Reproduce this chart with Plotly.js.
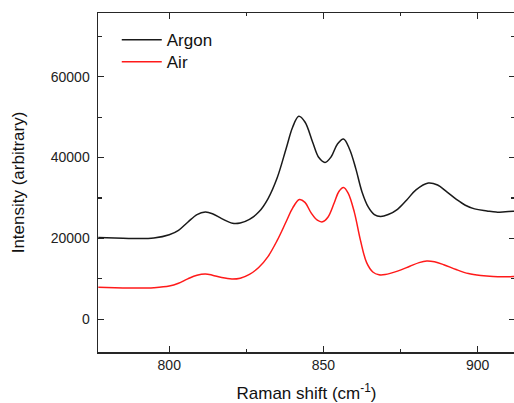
<!DOCTYPE html>
<html>
<head>
<meta charset="utf-8">
<script src="https://cdn.plot.ly/plotly-3.0.1.min.js"></script>
<style>
html,body{margin:0;padding:0;overflow:hidden;background:#fff;width:514px;height:403px;}
#chart{width:516px;height:403px;}
</style>
</head>
<body>
<div id="chart"></div>
<script>
const argonX = [777,785,790,795,800,803,806,809,811.7,814,817,820.5,823,826,829,832,835,838,840,842,844,846.5,848.5,850.5,852.5,854.5,856.5,858.5,860.5,862.5,864.5,866.5,868.5,871,874,877,880,884,887,890,893,896,899,903,906,909,911.5,913];
const argonY = [20200,20050,19950,20100,20900,22000,24000,25900,26500,26100,24900,23750,23800,24700,26500,29800,35000,42500,47500,50200,48800,43800,40000,38800,40200,43300,44600,42000,37200,31500,27800,25900,25400,25900,27200,29500,32000,33700,33200,31500,29700,28200,27300,26800,26500,26600,26700,26700];
const airX = [777,785,790,795,800,803,806,809,811.7,814,817,820.3,823,826,829,832,835,838,840,842.2,844,846,848,849.7,851.5,853.5,855,856.5,858,860,862,864,866,868,870,874,878,881,883.5,886,889,893,897,901,905,909,911.5,913];
const airY = [7900,7750,7700,7800,8200,8900,10000,10900,11200,10900,10300,9950,10150,11100,12800,15500,19500,24300,27500,29600,28900,26300,24500,24100,25300,28800,31600,32600,31200,26500,19500,14000,11700,11000,11050,11900,13100,14000,14400,14200,13500,12300,11300,10800,10550,10500,10550,10550];
const seriesNames = ["Argon","Air"];
const xTickVals = [800, 850, 900];
const yTickVals = [0, 20000, 40000, 60000];
const yTickText = ["0", "20000", "40000", "60000"];
const xTitle = "Raman shift (cm<sup>-1</sup>)";
const yTitle = "Intensity (arbitrary)";

const font = "Liberation Sans, Arial, sans-serif";
const traces = [
  {x: argonX, y: argonY, name: seriesNames[0], type: "scatter", mode: "lines", legend: "legend",
   line: {color: "#1a1a1a", width: 1.5, shape: "spline", smoothing: 1}},
  {x: airX, y: airY, name: seriesNames[1], type: "scatter", mode: "lines", legend: "legend2",
   line: {color: "#ff1a1a", width: 1.5, shape: "spline", smoothing: 1}}
];
const axisCommon = {
  showgrid: false, zeroline: false, showline: true, linecolor: "#262626", linewidth: 1.5,
  mirror: "ticks", ticks: "inside", ticklen: 6, tickwidth: 1.2, tickcolor: "#262626",
  tickfont: {family: font, size: 14, color: "#222"}
};
const legendCommon = {x: 0.045, xanchor: "left", yanchor: "middle", bgcolor: "rgba(0,0,0,0)",
  font: {family: font, size: 17, color: "#111"}, itemwidth: 40};
const layout = {
  width: 516, height: 403,
  margin: {l: 98, r: 1, t: 13, b: 51},
  paper_bgcolor: "#fff", plot_bgcolor: "#fff",
  showlegend: true,
  legend: Object.assign({}, legendCommon, {y: 0.920}),
  legend2: Object.assign({}, legendCommon, {y: 0.855}),
  xaxis: Object.assign({}, axisCommon, {
    range: [776.9, 912.1], tickvals: xTickVals,
    minor: {dtick: 25, tick0: 800, ticks: "inside", ticklen: 3, tickcolor: "#262626"},
    title: {text: xTitle, font: {family: font, size: 17, color: "#111"}, standoff: 19}
  }),
  yaxis: Object.assign({}, axisCommon, {
    range: [-8100, 75750], tickvals: yTickVals, ticktext: yTickText, ticklabelstandoff: 4,
    minor: {dtick: 10000, tick0: 0, ticks: "inside", ticklen: 4, tickcolor: "#262626"},
    title: {text: yTitle, font: {family: font, size: 17, color: "#111"}, standoff: 22}
  })
};
Plotly.newPlot("chart", traces, layout, {displayModeBar: false, staticPlot: true});
</script>
</body>
</html>
